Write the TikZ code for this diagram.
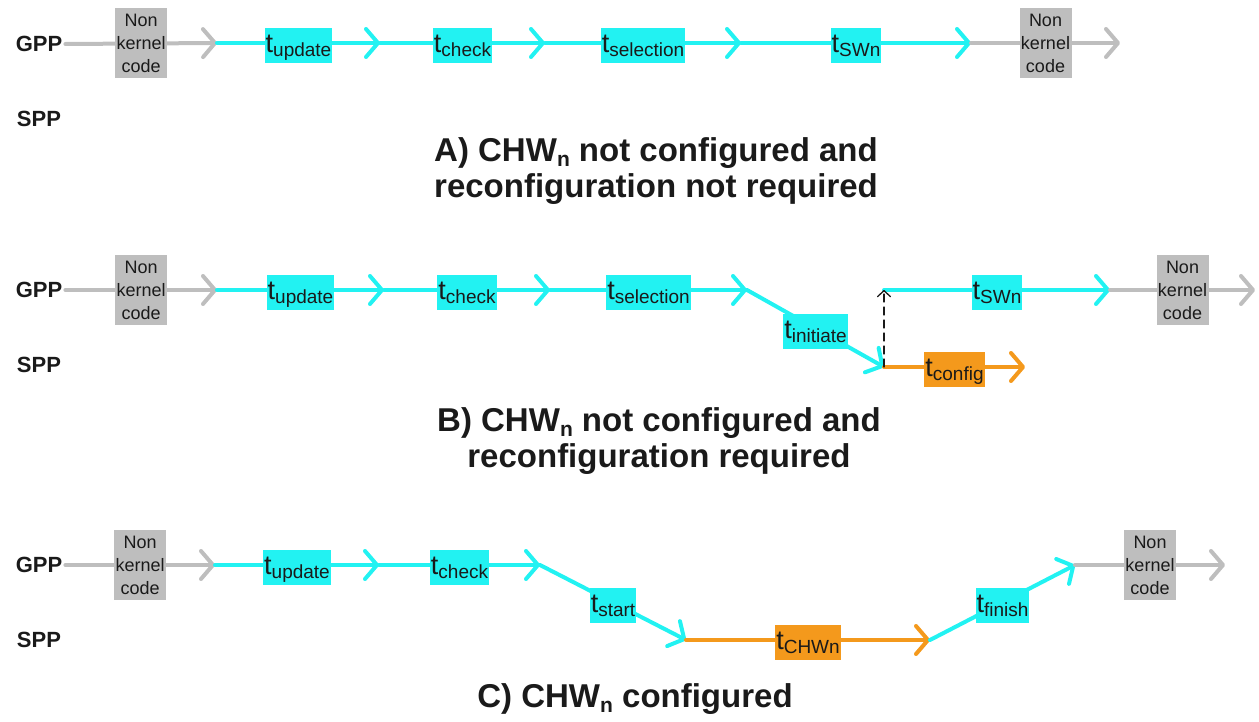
\documentclass[tikz,border=0pt]{standalone}
\usepackage{fontspec}
\setmainfont{Liberation Sans}
\usetikzlibrary{arrows.meta}
\definecolor{tcyan}{HTML}{22F2F2}
\definecolor{torange}{HTML}{F4991C}
\definecolor{tgray}{HTML}{BEBEBE}
\definecolor{tink}{HTML}{1A1A1A}
\newcommand{\tlab}[1]{{\fontsize{27}{29}\selectfont t}{\fontsize{19}{21}\selectfont\raisebox{-4pt}{#1}}}
\newcommand{\chwn}{CHW\raisebox{-5pt}{\fontsize{21}{23}\selectfont n}}
\begin{document}
\begin{tikzpicture}[x=1pt,y=-1pt,line cap=round,line join=round,text=tink,
	proc/.style={font=\bfseries\fontsize{22}{24}\selectfont,inner sep=0pt},
	nk/.style={fill=tgray,inner sep=1pt,minimum width=52pt,minimum height=70pt,align=center,font=\fontsize{18}{23}\selectfont},
	tbox/.style={fill=tcyan,inner xsep=1pt,inner ysep=2.5pt,text height=22pt,text depth=8pt,yshift=-2.5pt},
	obox/.style={tbox,fill=torange},
	barb/.style={-{Straight Barb[round,length=12pt,width=28pt]}},
	gl/.style={draw=tgray,line width=4pt,barb},
	cl/.style={draw=tcyan,line width=4pt,barb},
	ol/.style={draw=torange,line width=4pt,barb},
	captxt/.style={font=\bfseries\fontsize{33}{36}\selectfont,align=center,anchor=base}]
\useasboundingbox (0,0) rectangle (1259,722);

% A) not configured, no reconfiguration
\node[proc] (gA) at (39,44) {GPP};
\node[proc] (sA) at (39,119) {SPP};
\coordinate (a0) at (217,43); \coordinate (a1) at (380,43);
\coordinate (a2) at (545,43); \coordinate (a3) at (741,43);
\coordinate (a4) at (971,43); \coordinate (a5) at (1120,43);
\draw[gl] ([xshift=3pt]gA.east) -- node[nk] (nkA1) {Non\\kernel\\code} (a0);
\draw[cl] (a0) -- node[tbox] (upA) {\tlab{update}} (a1);
\draw[cl] (a1) -- node[tbox] (chA) {\tlab{check}} (a2);
\draw[cl] (a2) -- node[tbox] (seA) {\tlab{selection}} (a3);
\draw[cl] (a3) -- node[tbox] (swA) {\tlab{SWn}} (a4);
\draw[gl] (a4) -- node[nk] (nkA2) {Non\\kernel\\code} (a5);
\node[captxt] (capA) at (656,198) {A) \chwn{} not configured and\\reconfiguration not required};

% B) not configured, reconfiguration
\node[proc] (gB) at (39,290) {GPP};
\node[proc] (sB) at (39,365) {SPP};
\coordinate (b0) at (217,290); \coordinate (b1) at (384,290);
\coordinate (b2) at (550,290); \coordinate (b3) at (747,290);
\coordinate (b4) at (884,367); \coordinate (b5) at (884,290);
\coordinate (b6) at (1025,367); \coordinate (b7) at (1110,290);
\coordinate (b8) at (1255,290);
\draw[gl] ([xshift=3pt]gB.east) -- node[nk] (nkB1) {Non\\kernel\\code} (b0);
\draw[cl] (b0) -- node[tbox] (upB) {\tlab{update}} (b1);
\draw[cl] (b1) -- node[tbox] (chB) {\tlab{check}} (b2);
\draw[cl] (b2) -- node[tbox] (seB) {\tlab{selection}} (b3);
\draw[cl] (b3) -- node[tbox] (inB) {\tlab{initiate}} (b4);
\draw[ol] (b4) -- node[obox] (coB) {\tlab{config}} (b6);
\draw[cl] (b5) -- node[tbox] (swB) {\tlab{SWn}} (b7);
\draw[gl] (b7) -- node[nk] (nkB2) {Non\\kernel\\code} (b8);
\draw[tink,line width=1.3pt,dash pattern=on 8pt off 5pt,-{Straight Barb[round,length=6pt,width=13pt]}] (b4) -- (b5);
\node[captxt] (capB) at (659,467) {B) \chwn{} not configured and\\reconfiguration required};

% C) configured
\node[proc] (gC) at (39,565) {GPP};
\node[proc] (sC) at (39,640) {SPP};
\coordinate (c0) at (215,565); \coordinate (c1) at (379,565);
\coordinate (c2) at (540,565); \coordinate (c3) at (686,640);
\coordinate (c4) at (930,640); \coordinate (c5) at (1075,565);
\coordinate (c6) at (1225,565);
\draw[gl] ([xshift=3pt]gC.east) -- node[nk] (nkC1) {Non\\kernel\\code} (c0);
\draw[cl] (c0) -- node[tbox] (upC) {\tlab{update}} (c1);
\draw[cl] (c1) -- node[tbox] (chC) {\tlab{check}} (c2);
\draw[cl] (c2) -- node[tbox] (stC) {\tlab{start}} (c3);
\draw[ol] (c3) -- node[obox] (hwC) {\tlab{CHWn}} (c4);
\draw[cl] (c4) -- node[tbox] (fiC) {\tlab{finish}} (c5);
\draw[gl] (c5) -- node[nk] (nkC2) {Non\\kernel\\code} (c6);
\node[captxt] (capC) at (635,707) {C) \chwn{} configured};
\end{tikzpicture}
\end{document}
